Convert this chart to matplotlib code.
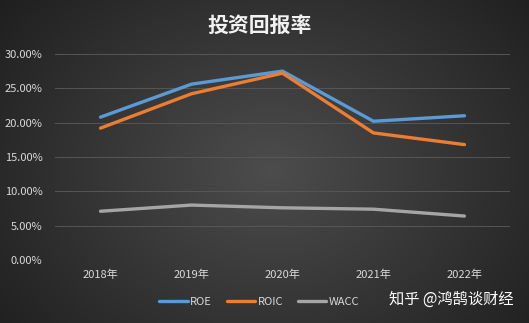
import numpy as np
import matplotlib
matplotlib.use("Agg")
import matplotlib.pyplot as plt
from matplotlib.ticker import PercentFormatter

plt.rcParams['font.family'] = ['Noto Sans CJK SC', 'DejaVu Sans']

years = ["2018年", "2019年", "2020年", "2021年", "2022年"]
roe = [0.208, 0.256, 0.275, 0.202, 0.210]
roic = [0.192, 0.242, 0.272, 0.185, 0.168]
wacc = [0.071, 0.080, 0.076, 0.074, 0.064]

fig = plt.figure(figsize=(5.29, 3.23), dpi=100)

# 背景の放射グラデーション
bg = fig.add_axes([0, 0, 1, 1], zorder=-10)
yy, xx = np.mgrid[0:323, 0:529]
r = np.sqrt(((xx - 270) / 330.0) ** 2 + ((yy - 170) / 260.0) ** 2)
shade = np.clip(0.30 - 0.17 * r, 0.12, 0.30)
bg.imshow(np.dstack([shade, shade, shade]), aspect="auto", extent=[0, 1, 0, 1])
bg.set_axis_off()

ax = fig.add_axes([0.104, 0.195, 0.86, 0.638])
ax.patch.set_alpha(0)
x = np.arange(len(years))
ax.plot(x, roe, color="#5b9bd5", lw=2.4, label="ROE", solid_capstyle="round", clip_on=False)
ax.plot(x, roic, color="#ed7d31", lw=2.4, label="ROIC", solid_capstyle="round", clip_on=False)
ax.plot(x, wacc, color="#a5a5a5", lw=2.4, label="WACC", solid_capstyle="round", clip_on=False)

ax.set_xlim(-0.5, 4.5)
ax.set_ylim(0, 0.30)
ax.set_yticks(np.arange(0, 0.31, 0.05))
ax.yaxis.set_major_formatter(PercentFormatter(1.0, decimals=2))
ax.set_xticks(x)
ax.set_xticklabels(years)
ax.grid(axis="y", color="#565656", lw=0.7)
ax.set_axisbelow(True)
for s in ax.spines.values():
    s.set_visible(False)
ax.tick_params(length=0, colors="#d9d9d9", labelsize=8)
ax.tick_params(axis="x", pad=7)
ax.tick_params(axis="y", pad=9)

fig.text(0.49, 0.923, "投资回报率", ha="center", va="center", color="#f2f2f2",
         fontsize=15, fontweight="bold")

ax.legend(loc="center", bbox_to_anchor=(0.49, 0.065), bbox_transform=fig.transFigure,
          ncol=3, frameon=False, fontsize=8, labelcolor="#d9d9d9",
          handlelength=2.6, handletextpad=0.2, columnspacing=1.3)

fig.text(0.97, 0.072, "知乎 @鸿鹄谈财经", ha="right", va="center", color="white", fontsize=11)

fig.savefig("out.png", dpi=100)
